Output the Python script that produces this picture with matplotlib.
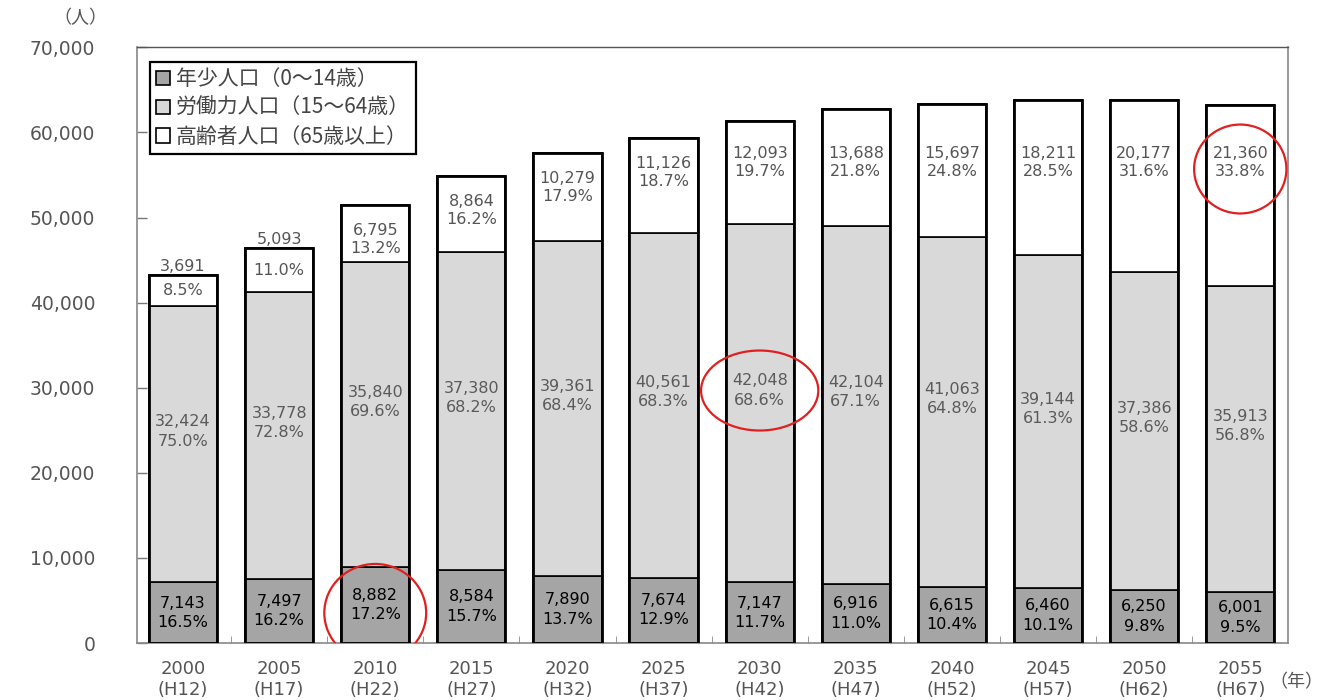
import matplotlib
matplotlib.use('Agg')
import matplotlib.pyplot as plt
from matplotlib.patches import Ellipse, Patch
from matplotlib.ticker import FuncFormatter, FixedLocator
import numpy as np

# ---- data ----
years = ['2000', '2005', '2010', '2015', '2020', '2025', '2030', '2035', '2040', '2045', '2050', '2055']
eras = ['H12', 'H17', 'H22', 'H27', 'H32', 'H37', 'H42', 'H47', 'H52', 'H57', 'H62', 'H67']
youth = [7143, 7497, 8882, 8584, 7890, 7674, 7147, 6916, 6615, 6460, 6250, 6001]
youth_pct = [16.5, 16.2, 17.2, 15.7, 13.7, 12.9, 11.7, 11.0, 10.4, 10.1, 9.8, 9.5]
working = [32424, 33778, 35840, 37380, 39361, 40561, 42048, 42104, 41063, 39144, 37386, 35913]
working_pct = [75.0, 72.8, 69.6, 68.2, 68.4, 68.3, 68.6, 67.1, 64.8, 61.3, 58.6, 56.8]
elderly = [3691, 5093, 6795, 8864, 10279, 11126, 12093, 13688, 15697, 18211, 20177, 21360]
elderly_pct = [8.5, 11.0, 13.2, 16.2, 17.9, 18.7, 19.7, 21.8, 24.8, 28.5, 31.6, 33.8]
series_labels = ['年少人口（0〜14歳）', '労働力人口（15〜64歳）', '高齢者人口（65歳以上）']
highlights = [(2, 'youth'), (6, 'working'), (11, 'elderly')]

CJK = ['Noto Sans CJK JP', 'DejaVu Sans']
plt.rcParams['font.family'] = ['DejaVu Sans', 'Noto Sans CJK JP']

c_youth, c_work, c_old = '#a5a5a5', '#d9d9d9', '#ffffff'
grey_txt = '#555555'

fig = plt.figure(figsize=(13.42, 7), dpi=100)
ax = fig.add_axes([0.102, 0.0814, 0.858, 0.851])

x = np.arange(len(years))
yv = np.array(youth)
wv = np.array(working)
ev = np.array(elderly)
total = yv + wv + ev
bw = 0.71

ax.bar(x, yv, bw, color=c_youth, edgecolor='black', linewidth=1.2, zorder=2)
ax.bar(x, wv, bw, bottom=yv, color=c_work, edgecolor='black', linewidth=1.2, zorder=2)
ax.bar(x, ev, bw, bottom=yv + wv, color=c_old, edgecolor='black', linewidth=1.2, zorder=2)
ax.bar(x, total, bw, fill=False, edgecolor='black', linewidth=2.0, zorder=3)

fs = 11.5
label_pos = {}
for i in range(len(x)):
    # youth
    yc = yv[i] / 2
    ax.text(x[i], yc, f"{youth[i]:,}\n{youth_pct[i]:.1f}%", ha='center', va='center',
            fontsize=fs, color='#000000', linespacing=1.35, zorder=4)
    label_pos[(i, 'youth')] = yc - 900
    # working
    wc = yv[i] + wv[i] / 2 + 1500
    ax.text(x[i], wc, f"{working[i]:,}\n{working_pct[i]:.1f}%", ha='center', va='center',
            fontsize=fs, color='#5a5a5a', linespacing=1.35, zorder=4)
    label_pos[(i, 'working')] = wc
    # elderly
    top = total[i]
    if ev[i] < 6000:
        ax.text(x[i], top + 1000, f"{elderly[i]:,}", ha='center', va='center',
                fontsize=fs, color=grey_txt, zorder=4)
        ax.text(x[i], top - ev[i] / 2, f"{elderly_pct[i]:.1f}%", ha='center', va='center',
                fontsize=fs, color=grey_txt, zorder=4)
        label_pos[(i, 'elderly')] = top
    else:
        ny = min(top - 3000, 57500)
        ax.text(x[i], ny, f"{elderly[i]:,}", ha='center', va='center',
                fontsize=fs, color=grey_txt, zorder=4)
        ax.text(x[i], ny - 2100, f"{elderly_pct[i]:.1f}%", ha='center', va='center',
                fontsize=fs, color=grey_txt, zorder=4)
        label_pos[(i, 'elderly')] = ny - 1800

# red circles
ell_size = {'youth': (1.06, 11500), 'working': (1.22, 9400), 'elderly': (0.96, 10450)}
for idx, s in highlights:
    w_, h_ = ell_size[s]
    ax.add_patch(Ellipse((x[idx], label_pos[(idx, s)]), w_, h_, fill=False,
                         edgecolor='#e02020', linewidth=1.6, zorder=5))

# axes
ax.set_xlim(-0.48, 11.5)
ax.set_ylim(0, 70000)
ax.yaxis.set_major_locator(FixedLocator(np.arange(0, 70001, 10000)))
ax.yaxis.set_major_formatter(FuncFormatter(lambda v, p: f"{int(v):,}"))
ax.tick_params(axis='y', direction='in', length=7, width=1, color='#777777',
               labelsize=13.5, labelcolor=grey_txt, pad=30)
ax.set_xticks(x)
ax.set_xticklabels([f"{y}\n({e})" for y, e in zip(years, eras)], fontsize=13,
                   color=grey_txt, linespacing=1.25)
ax.tick_params(axis='x', length=0, pad=12)
ax.set_xticks(x[:-1] + 0.5, minor=True)
ax.tick_params(axis='x', which='minor', direction='in', length=5, color='#888888')
for side in ['left', 'right', 'bottom']:
    ax.spines[side].set_color('#888888')
    ax.spines[side].set_linewidth(1.2)
ax.spines['top'].set_color('#555555')
ax.spines['top'].set_linewidth(1.0)

# legend
handles = [Patch(facecolor=c, edgecolor='black', linewidth=1.2) for c in (c_youth, c_work, c_old)]
leg = ax.legend(handles, series_labels, loc='upper left', bbox_to_anchor=(0.011, 0.975),
                prop={'family': CJK, 'size': 15}, handlelength=0.7, handleheight=0.7,
                handletextpad=0.25, borderpad=0.3, labelspacing=0.32, fancybox=False,
                framealpha=1, borderaxespad=0)
leg.get_frame().set_edgecolor('black')
leg.get_frame().set_linewidth(1.6)
for t in leg.get_texts():
    t.set_color('#444444')

fig.text(80 / 1342, 1 - 18 / 700, '（人）', ha='center', va='center', fontsize=13,
         color=grey_txt, family=CJK)
fig.text(1296 / 1342, 1 - 682 / 700, '（年）', ha='center', va='center', fontsize=13,
         color=grey_txt, family=CJK)

fig.savefig('out.png', dpi=100, facecolor='white')
